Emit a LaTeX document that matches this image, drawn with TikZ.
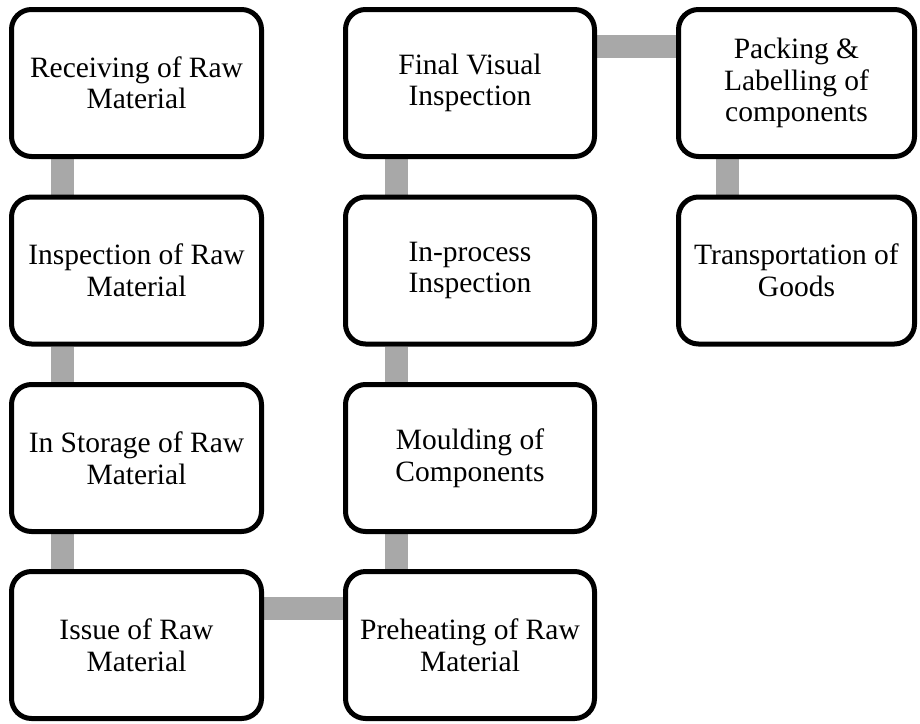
\documentclass[tikz,border=0pt]{standalone}
\usepackage{fontspec}
\setmainfont{Liberation Serif}
\usetikzlibrary{backgrounds}
\definecolor{linkgray}{RGB}{168,168,168}
\tikzset{
  stepbox/.style={draw=black, line width=5pt, rounded corners=20pt, fill=white,
    minimum height=147pt, align=center, inner sep=0pt,
    font=\fontsize{29.5pt}{31.5pt}\selectfont},
  colA/.style={stepbox, minimum width=250pt},
  colB/.style={stepbox, minimum width=249pt},
  colC/.style={stepbox, minimum width=236pt},
  link/.style={draw=linkgray, line width=23pt},
}
\begin{document}
\begin{tikzpicture}[x=1pt, y=-1pt]
\useasboundingbox (0,0) rectangle (920,723);
% first column
\node[colA] (recv)  at (136.5,83)    {Receiving of Raw\\Material};
\node[colA] (insp)  at (136.5,270.5) {Inspection of Raw\\Material};
\node[colA] (store) at (136.5,458)   {In Storage of Raw\\Material};
\node[colA] (issue) at (136.5,645)   {Issue of Raw\\Material};
% second column
\node[colB] (final) at (470,83)    {Final Visual\\Inspection};
\node[colB] (inproc) at (470,270.5) {In-process\\Inspection};
\node[colB] (mould) at (470,458)   {Moulding of\\Components};
\node[colB] (preheat) at (470,645) {Preheating of Raw\\Material};
% third column
\node[colC] (pack)  at (796.5,83)    {Packing \&\\Labelling of\\components};
\node[colC] (trans) at (796.5,270.5) {Transportation of\\Goods};
% connecting bars behind the boxes
\begin{scope}[on background layer]
  \draw[link] ([xshift=53.5pt]recv.south west)  -- ([xshift=53.5pt]insp.north west);
  \draw[link] ([xshift=53.5pt]insp.south west)  -- ([xshift=53.5pt]store.north west);
  \draw[link] ([xshift=53.5pt]store.south west) -- ([xshift=53.5pt]issue.north west);
  \draw[link] ([yshift=-39pt]issue.north east) -- ([yshift=-39pt]preheat.north west);
  \draw[link] ([xshift=53pt]preheat.north west) -- ([xshift=53pt]mould.south west);
  \draw[link] ([xshift=53pt]mould.north west) -- ([xshift=53pt]inproc.south west);
  \draw[link] ([xshift=53pt]inproc.north west) -- ([xshift=53pt]final.south west);
  \draw[link] ([yshift=-39pt]final.north east) -- ([yshift=-39pt]pack.north west);
  \draw[link] ([xshift=51pt]pack.south west) -- ([xshift=51pt]trans.north west);
\end{scope}
\end{tikzpicture}
\end{document}
